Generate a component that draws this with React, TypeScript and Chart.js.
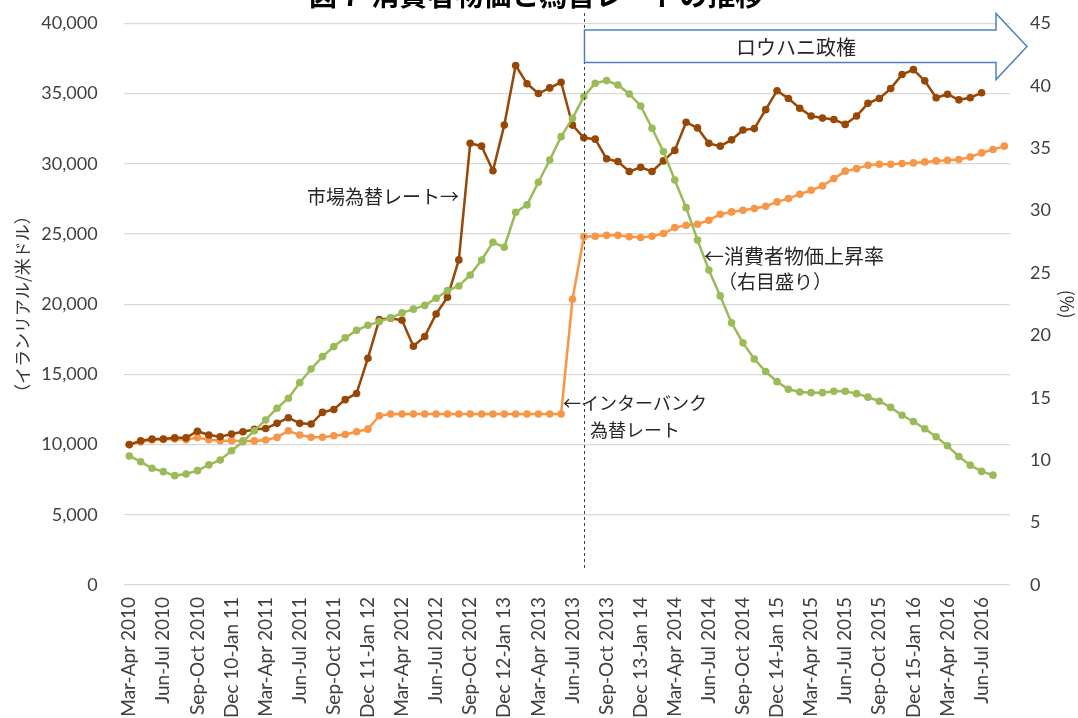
import React, { useEffect, useRef } from 'react';
import { Chart, registerables } from 'chart.js';

Chart.register(...registerables);

const months: string[] = [
  'Mar-Apr 2010', 'Apr-May 2010', 'May-Jun 2010', 'Jun-Jul 2010', 'Jul-Aug 2010', 'Aug-Sep 2010',
  'Sep-Oct 2010', 'Oct-Nov 2010', 'Nov-Dec 2010', 'Dec 10-Jan 11', 'Jan-Feb 2011', 'Feb-Mar 2011',
  'Mar-Apr 2011', 'Apr-May 2011', 'May-Jun 2011', 'Jun-Jul 2011', 'Jul-Aug 2011', 'Aug-Sep 2011',
  'Sep-Oct 2011', 'Oct-Nov 2011', 'Nov-Dec 2011', 'Dec 11-Jan 12', 'Jan-Feb 2012', 'Feb-Mar 2012',
  'Mar-Apr 2012', 'Apr-May 2012', 'May-Jun 2012', 'Jun-Jul 2012', 'Jul-Aug 2012', 'Aug-Sep 2012',
  'Sep-Oct 2012', 'Oct-Nov 2012', 'Nov-Dec 2012', 'Dec 12-Jan 13', 'Jan-Feb 2013', 'Feb-Mar 2013',
  'Mar-Apr 2013', 'Apr-May 2013', 'May-Jun 2013', 'Jun-Jul 2013', 'Jul-Aug 2013', 'Aug-Sep 2013',
  'Sep-Oct 2013', 'Oct-Nov 2013', 'Nov-Dec 2013', 'Dec 13-Jan 14', 'Jan-Feb 2014', 'Feb-Mar 2014',
  'Mar-Apr 2014', 'Apr-May 2014', 'May-Jun 2014', 'Jun-Jul 2014', 'Jul-Aug 2014', 'Aug-Sep 2014',
  'Sep-Oct 2014', 'Oct-Nov 2014', 'Nov-Dec 2014', 'Dec 14-Jan 15', 'Jan-Feb 2015', 'Feb-Mar 2015',
  'Mar-Apr 2015', 'Apr-May 2015', 'May-Jun 2015', 'Jun-Jul 2015', 'Jul-Aug 2015', 'Aug-Sep 2015',
  'Sep-Oct 2015', 'Oct-Nov 2015', 'Nov-Dec 2015', 'Dec 15-Jan 16', 'Jan-Feb 2016', 'Feb-Mar 2016',
  'Mar-Apr 2016', 'Apr-May 2016', 'May-Jun 2016', 'Jun-Jul 2016', 'Jul-Aug 2016', 'Aug-Sep 2016',
];

// 市場為替レート (rial / USD)
const marketRate: (number | null)[] = [
  10000, 10270, 10390, 10390, 10480, 10480, 10950, 10680, 10560, 10750, 10910, 11080,
  11150, 11510, 11910, 11510, 11460, 12290, 12500, 13200, 13640, 16150, 18900, 19000,
  18850, 17000, 17700, 19300, 20500, 23150, 31450, 31250, 29500, 32750, 37000, 35700,
  35000, 35400, 35800, 32750, 31850, 31750, 30350, 30150, 29450, 29750, 29450, 30200,
  30950, 32950, 32550, 31450, 31250, 31700, 32400, 32500, 33850, 35200, 34650, 33950,
  33400, 33250, 33150, 32800, 33400, 34300, 34650, 35350, 36350, 36700, 35900, 34700,
  34950, 34550, 34700, 35050, null, null,
];

// インターバンク為替レート (rial / USD)
const interbankRate: number[] = [
  10000, 10180, 10330, 10380, 10400, 10350, 10500, 10350, 10270, 10280, 10260, 10260,
  10330, 10510, 10980, 10680, 10520, 10520, 10630, 10720, 10910, 11100, 12050, 12180,
  12180, 12180, 12180, 12180, 12180, 12180, 12180, 12180, 12180, 12180, 12180, 12180,
  12180, 12180, 12180, 20350, 24800, 24840, 24900, 24900, 24800, 24750, 24840, 25030,
  25450, 25620, 25690, 25980, 26400, 26570, 26690, 26810, 26970, 27280, 27520, 27830,
  28110, 28420, 28940, 29470, 29650, 29890, 29960, 29960, 30010, 30060, 30130, 30200,
  30250, 30300, 30480, 30770, 31010, 31250,
];

// 消費者物価上昇率 (%, right axis)
const cpiInflation: (number | null)[] = [
  10.34, 9.88, 9.35, 9.08, 8.76, 8.89, 9.16, 9.62, 10.02, 10.76, 11.48, 12.36,
  13.22, 14.16, 14.96, 16.21, 17.3, 18.3, 19.1, 19.8, 20.4, 20.8, 21.1, 21.4,
  21.8, 22.1, 22.4, 22.97, 23.58, 23.96, 24.84, 26.04, 27.46, 27.06, 29.86, 30.45,
  32.27, 34.05, 35.92, 37.39, 39.13, 40.2, 40.41, 40.06, 39.34, 38.38, 36.59, 34.72,
  32.45, 30.23, 27.64, 25.24, 23.16, 21.0, 19.4, 18.1, 17.1, 16.29, 15.68, 15.46,
  15.41, 15.41, 15.52, 15.52, 15.33, 15.05, 14.72, 14.23, 13.6, 13.1, 12.52, 11.88,
  11.15, 10.3, 9.6, 9.1, 8.8, null,
];

const ROUHANI_START_INDEX = 40;
const LEFT_MAX = 40000;
const LEFT_STEP = 5000;
const RIGHT_MAX = 45;
const RIGHT_STEP = 5;

const TITLE = '図７ 消費者物価と為替レートの推移';
const ARROW_TEXT = 'ロウハニ政権';
const CJK = '"Noto Sans CJK JP", "Noto Sans CJK SC", sans-serif';

const annotationPlugin = {
  id: 'annotations',
  afterDatasetsDraw(chart: any) {
    const ctx: CanvasRenderingContext2D = chart.ctx;
    const xs = chart.scales.x;
    const xr = Math.round(xs.getPixelForValue(ROUHANI_START_INDEX)) + 0.5;
    ctx.save();

    // dashed vertical line
    ctx.strokeStyle = '#404040';
    ctx.lineWidth = 1;
    ctx.setLineDash([3, 3]);
    ctx.beginPath();
    ctx.moveTo(xr, 13);
    ctx.lineTo(xr, 570);
    ctx.stroke();
    ctx.setLineDash([]);

    // block arrow
    const headX = 996;
    const tipX = 1027;
    ctx.beginPath();
    ctx.moveTo(xr, 30);
    ctx.lineTo(headX, 30);
    ctx.lineTo(headX, 13.5);
    ctx.lineTo(tipX, 46.5);
    ctx.lineTo(headX, 79.5);
    ctx.lineTo(headX, 62.5);
    ctx.lineTo(xr, 62.5);
    ctx.closePath();
    ctx.fillStyle = '#ffffff';
    ctx.fill();
    ctx.strokeStyle = '#4F81BD';
    ctx.lineWidth = 1.5;
    ctx.stroke();

    ctx.fillStyle = '#262626';
    ctx.textBaseline = 'middle';
    ctx.font = `400 20px ${CJK}`;
    ctx.textAlign = 'center';
    ctx.fillText(ARROW_TEXT, 796, 47);

    ctx.textAlign = 'left';
    ctx.font = `400 19px ${CJK}`;
    ctx.fillText('市場為替レート→', 307, 197);

    ctx.font = `400 18px ${CJK}`;
    ctx.fillText('←インターバンク', 563, 403);
    ctx.fillText('為替レート', 590, 430);

    ctx.font = `400 20px ${CJK}`;
    ctx.fillText('←消費者物価上昇率', 704, 256);
    ctx.font = `400 19px ${CJK}`;
    ctx.fillText('（右目盛り）', 718, 282);

    // title (clipped at top of picture)
    ctx.font = `700 28px ${CJK}`;
    ctx.fillStyle = '#000000';
    ctx.textBaseline = 'alphabetic';
    ctx.fillText(TITLE, 309, 6);
    ctx.restore();
  },
};

export default function App() {
  const canvasRef = useRef<HTMLCanvasElement | null>(null);

  useEffect(() => {
    if (!canvasRef.current) return;
    Chart.defaults.font.family = 'Lato, "Liberation Sans", sans-serif';
    const tickColor = '#404040';
    const chart = new Chart(canvasRef.current, {
      type: 'line',
      data: {
        labels: months,
        datasets: [
          {
            label: '消費者物価上昇率',
            data: cpiInflation,
            yAxisID: 'y1',
            borderColor: '#9BBB59',
            backgroundColor: '#9BBB59',
            borderWidth: 2.5,
            pointRadius: 3.8,
            pointBorderWidth: 0,
            tension: 0,
            order: 0,
          },
          {
            label: '市場為替レート',
            data: marketRate,
            yAxisID: 'y',
            borderColor: '#974706',
            backgroundColor: '#974706',
            borderWidth: 2.5,
            pointRadius: 3.8,
            pointBorderWidth: 0,
            tension: 0,
            order: 1,
          },
          {
            label: 'インターバンク為替レート',
            data: interbankRate,
            yAxisID: 'y',
            borderColor: '#F79646',
            backgroundColor: '#F79646',
            borderWidth: 2.5,
            pointRadius: 3.8,
            pointBorderWidth: 0,
            tension: 0,
            order: 2,
          },
        ],
      },
      options: {
        animation: false,
        responsive: true,
        maintainAspectRatio: false,
        layout: { padding: { top: 23.3, left: 0, right: 0, bottom: 0 } },
        plugins: {
          legend: { display: false },
          tooltip: { enabled: false },
          title: { display: false },
        },
        scales: {
          x: {
            type: 'category',
            offset: true,
            grid: { display: false, drawTicks: false },
            border: { display: false },
            ticks: {
              autoSkip: false,
              minRotation: 90,
              maxRotation: 90,
              padding: 12,
              color: tickColor,
              font: { size: 19 },
              callback: (_v: any, i: number) => (i % 3 === 0 ? months[i] : ''),
            },
            afterFit: (s: any) => {
              s.height = 133;
            },
          },
          y: {
            position: 'left',
            min: 0,
            max: LEFT_MAX,
            grid: { color: '#d9d9d9', lineWidth: 1.2, drawTicks: false },
            border: { display: false },
            ticks: {
              stepSize: LEFT_STEP,
              padding: 26,
              color: tickColor,
              font: { size: 18 },
              callback: (v: any) => Number(v).toLocaleString('en-US'),
            },
            title: {
              display: true,
              text: '（イランリアル/米ドル）',
              color: '#333333',
              font: { family: CJK, size: 17 },
              padding: { top: 12, bottom: 0 },
            },
            afterFit: (s: any) => {
              s.width = 123.6;
              s.paddingTop = 0;
              s.paddingBottom = 0;
            },
          },
          y1: {
            position: 'right',
            min: 0,
            max: RIGHT_MAX,
            grid: { display: false, drawOnChartArea: false, drawTicks: false },
            border: { display: false },
            ticks: {
              stepSize: RIGHT_STEP,
              padding: 20,
              color: tickColor,
              font: { size: 18 },
            },
            title: {
              display: true,
              text: '(%)',
              color: '#333333',
              font: { family: CJK, size: 18 },
              padding: { top: 0, bottom: 0 },
            },
            afterFit: (s: any) => {
              s.width = 68;
              s.paddingTop = 0;
              s.paddingBottom = 0;
            },
          },
        },
      },
      plugins: [annotationPlugin],
    });
    return () => chart.destroy();
  }, []);

  return (
    <div style={{ position: 'absolute', left: 0, top: 0, width: 1078, height: 718, background: '#fff' }}>
      <canvas ref={canvasRef} />
    </div>
  );
}
